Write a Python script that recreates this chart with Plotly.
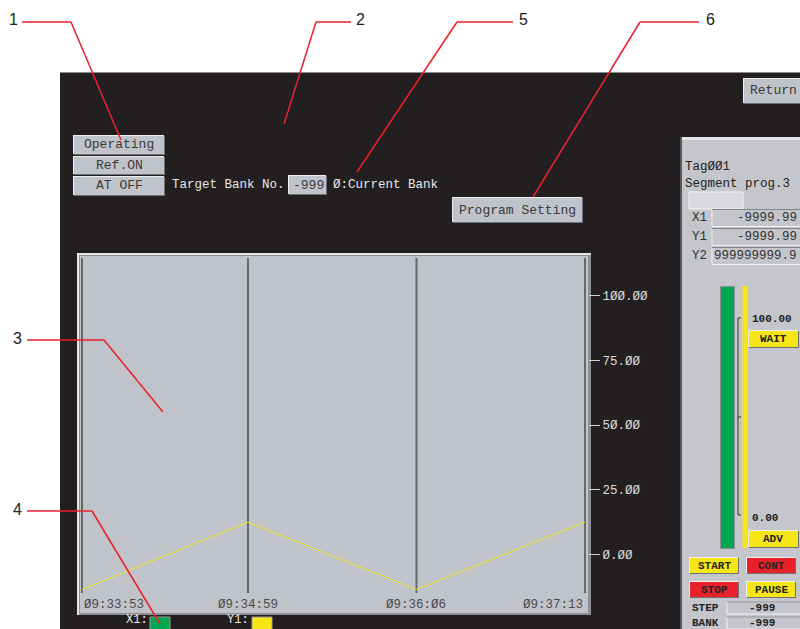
import plotly.graph_objects as go

W, H = 800, 629

# ---------------- data ----------------
time_ticks = ["2024-01-01 09:33:53", "2024-01-01 09:34:59",
              "2024-01-01 09:36:06", "2024-01-01 09:37:13"]
time_labels = ["09:33:53", "09:34:59", "09:36:06", "09:37:13"]
y1_values = [-13.5, 12.5, -13.5, 12.5]
y_tick_vals = [0, 25, 50, 75, 100]
y_tick_text = ["0.00", "25.00", "50.00", "75.00", "100.00"]

DARK = "#231f20"
PANEL = "#c4c6cb"
BTN = "#c0c3c9"
PLOTBG = "#c0c3ca"
RED = "#e8212b"
YEL = "#f7e617"
GRN = "#00a650"
MONO = "Liberation Mono"
SANS = "Liberation Sans"


def px(x):
    return x / W


def py(y):
    return 1 - y / H


shapes_below = []
shapes_above = []
annots = []


def rect(x0, y0, x1, y1, fill, line=None, lw=0, layer="below", lst=None):
    d = dict(type="rect", xref="paper", yref="paper",
             x0=px(x0), x1=px(x1), y0=py(y1), y1=py(y0),
             fillcolor=fill, layer=layer,
             line=dict(width=lw, color=line or fill))
    (lst if lst is not None else shapes_below).append(d)


def line(x0, y0, x1, y1, color, width=1, layer="below", lst=None):
    d = dict(type="line", xref="paper", yref="paper",
             x0=px(x0), x1=px(x1), y0=py(y0), y1=py(y1),
             layer=layer, line=dict(color=color, width=width))
    (lst if lst is not None else shapes_below).append(d)


def text(x, y, s, size=12, color="#222", family=MONO, xanchor="left", bold=False):
    if bold:
        s = "<b>" + s + "</b>"
    annots.append(dict(xref="paper", yref="paper", x=px(x), y=py(y), text=s,
                       showarrow=False, xanchor=xanchor, yanchor="middle",
                       font=dict(size=size, color=color, family=family)))


def button(x0, y0, x1, y1, fill=BTN, lst=None):
    rect(x0 + 1, y0 + 1, x1, y1, "#6f7175", lst=lst)
    rect(x0, y0, x1 - 1, y1 - 1, "#eeeff1", lst=lst)
    rect(x0 + 1, y0 + 1, x1 - 1, y1 - 1, fill, lst=lst)


# dark screen
rect(60, 72, 800, 629, DARK)
line(60, 72.5, 800, 72.5, "#8c8c8c", 1)

# plot frame
rect(77, 253, 591, 615, "#e4e5e8")
rect(79, 255, 591, 615, "#8d8f94")
rect(80, 256, 588, 613, PLOTBG)

# top-left buttons
button(73, 135, 165, 155)
button(73, 156, 165, 175)
button(73, 176, 165, 196)
text(119, 145, "Operating", 13, "#3a3a3a", xanchor="center")
text(119, 165, "Ref.ON", 13, "#3a3a3a", xanchor="center")
text(119, 186, "AT OFF", 13, "#3a3a3a", xanchor="center")

text(170, 185, "Target Bank No.", 12.5, "#e8e8e8")
button(288, 175, 327, 195)
text(326, 185, "-999", 13, "#3a3a3a", xanchor="right")
text(331, 185, "Ø:Current Bank", 12.5, "#e8e8e8")

button(452, 197, 583, 223)
text(517, 210, "Program Setting", 13, "#3a3a3a", xanchor="center")

button(743, 78, 802, 104)
text(773, 91, "Return", 13, "#3a3a3a", xanchor="center")

# right panel
rect(680, 137, 802, 631, "#e2e3e6")
rect(682, 140, 802, 631, PANEL)
line(681, 137, 681, 629, "#55575b", 2)
text(683, 167, "TagØØ1", 12.5, "#222")
text(683, 184, "Segment prog.3", 12.5, "#222")
rect(689, 192, 743, 209, "#d8dadd", "#f4f4f4", 1)
for yc, lab, val in [(218, "X1", "-9999.99"), (237, "Y1", "-9999.99"),
                     (256, "Y2", "999999999.9")]:
    rect(712, yc - 8.5, 801, yc + 8.5, PANEL, "#f2f2f2", 1)
    line(712, yc - 8.5, 801, yc - 8.5, "#808288", 1)
    text(690, yc, lab, 12.5, "#333")
    text(799, yc, val, 12.5, "#333", xanchor="right")

# bar graph
rect(720, 286, 735, 549, "#8e9095")
rect(721, 287, 734, 548, GRN)
rect(742.5, 286, 747.5, 548, YEL)
line(738, 318, 738, 515, "#333", 1)
for yy in [318, 417, 515]:
    line(738, yy, 741, yy, "#333", 1)
text(750, 319, "100.00", 11, "#222", bold=True)
text(750, 518, "0.00", 11, "#222", bold=True)
button(748, 330, 799, 348, YEL)
text(773, 339, "WAIT", 11, "#222", xanchor="center", bold=True)
button(748, 530, 799, 548, YEL)
text(773, 539, "ADV", 11, "#222", xanchor="center", bold=True)
button(689, 557, 739, 574, YEL)
text(714, 565.5, "START", 11, "#222", xanchor="center", bold=True)
button(746, 557, 796, 574, RED)
text(771, 565.5, "CONT", 11, "#222", xanchor="center", bold=True)
button(689, 581, 739, 598, RED)
text(714, 589.5, "STOP", 11, "#222", xanchor="center", bold=True)
button(746, 581, 796, 598, YEL)
text(771, 589.5, "PAUSE", 11, "#222", xanchor="center", bold=True)
for yc, lab in [(608, "STEP"), (623, "BANK")]:
    rect(727, yc - 6, 801, yc + 6, PANEL, "#f2f2f2", 1)
    line(727, yc - 6, 801, yc - 6, "#808288", 1)
    text(690, yc, lab, 11, "#222", bold=True)
    text(762, yc, "-999", 11, "#222", xanchor="center", bold=True)

# legend swatches
text(150, 620, "X1:", 12, "#e8e8e8", xanchor="right")
rect(150, 617, 170, 632, GRN, "#9a9a9a", 1)
text(251, 620, "Y1:", 12, "#e8e8e8", xanchor="right")
rect(252, 617, 272, 632, YEL, "#9a9a9a", 1)

# vertical grid lines at time ticks (data x, paper y)
for t in time_ticks:
    shapes_below.append(dict(type="line", xref="x", yref="paper",
                             x0=t, x1=t, y0=py(593), y1=py(258), layer="below",
                             line=dict(color="#66686c", width=2)))

# time tick labels
anchors = ["left", "center", "center", "right"]
for t, lab, a in zip(time_ticks, time_labels, anchors):
    annots.append(dict(xref="x", yref="paper", x=t, y=py(605), text=lab.replace("0", "Ø"),
                       showarrow=False, xanchor=a, yanchor="middle",
                       font=dict(size=12.5, color="#4a4a4a", family=MONO)))

# callouts
red_lines = [
    ([22, 71, 121], [22, 22, 140]),
    ([351, 316, 284], [22, 22, 124]),
    ([513, 457, 357], [22, 22, 172]),
    ([699, 640, 533], [22, 22, 197]),
    ([27, 104, 163], [340, 340, 412]),
    ([27, 92, 160], [511, 511, 624]),
]
for xs, ys in red_lines:
    for i in range(2):
        line(xs[i], ys[i], xs[i + 1], ys[i + 1], RED, 1.5, layer="above", lst=shapes_above)
for lab, x, y in [("1", 13, 20), ("2", 360, 20), ("5", 523, 20), ("6", 710, 20),
                  ("3", 17, 338), ("4", 17, 509)]:
    text(x, y, lab, 16, "#222", family=SANS, xanchor="center")

fig = go.Figure()
fig.add_trace(go.Scatter(x=time_ticks, y=y1_values, mode="lines",
                         line=dict(color="#f3e422", width=1), name="Y1",
                         showlegend=False, hoverinfo="skip"))

fig.update_layout(
    width=W, height=H, margin=dict(l=0, r=0, t=0, b=0),
    paper_bgcolor="white", plot_bgcolor="rgba(0,0,0,0)",
    showlegend=False,
    shapes=shapes_below + shapes_above,
    annotations=annots,
    xaxis=dict(domain=[px(80), px(588)], type="date",
               range=["2024-01-01 09:33:52.2", "2024-01-01 09:37:14.2"],
               showgrid=False, showticklabels=False, ticks="", zeroline=False,
               showline=False, fixedrange=True),
    yaxis=dict(domain=[py(613), py(256)], side="right",
               range=[(554.5 - 613) / 2.59, (554.5 - 256) / 2.59],
               tickvals=y_tick_vals, ticktext=[t.replace("0", "Ø") for t in y_tick_text],
               ticks="outside", ticklen=11, tickwidth=1, tickcolor="#d0d0d0",
               showgrid=False, zeroline=False, showline=False,
               tickfont=dict(family=MONO, size=12.5, color="#dcdcdc"),
               fixedrange=True),
)

fig.write_html("out.html", post_script="document.body.style.margin='0';",
               config={"displayModeBar": False})
